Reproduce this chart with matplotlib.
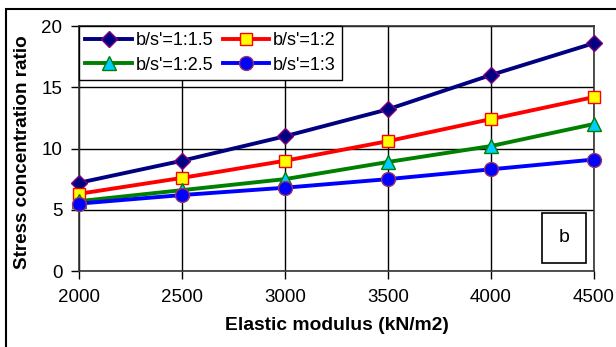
import matplotlib.pyplot as plt
from matplotlib.patches import Rectangle

plt.rcParams['font.family'] = ['Liberation Sans', 'DejaVu Sans']

modulus = [2000, 2500, 3000, 3500, 4000, 4500]
ratio_15 = [7.2, 9.0, 11.0, 13.2, 16.0, 18.6]
ratio_2 = [6.3, 7.6, 9.0, 10.6, 12.4, 14.2]
ratio_25 = [5.7, 6.6, 7.5, 8.9, 10.2, 12.0]
ratio_3 = [5.5, 6.2, 6.8, 7.5, 8.3, 9.1]
labels = ["b/s'=1:1.5", "b/s'=1:2", "b/s'=1:2.5", "b/s'=1:3"]

fig = plt.figure(figsize=(6.16, 3.47), dpi=100)
ax = fig.add_axes([79 / 616, 1 - 271 / 347, 515 / 616, 245 / 347])

# outer frame (only top/left visible)
fig.patches.append(Rectangle((6 / 616, -0.1), 1.2, 1 - 9 / 347 + 0.1,
                             transform=fig.transFigure, fill=False,
                             edgecolor='black', linewidth=1.5))

styles = [
    dict(color='#000080', marker='D', mfc='#000080', mec='#800080', ms=8.5),
    dict(color='#ff0000', marker='s', mfc='#ffff00', mec='#ff0000', ms=8.5),
    dict(color='#008000', marker='^', mfc='#00ccff', mec='#008000', ms=10),
    dict(color='#0000ff', marker='o', mfc='#0000ff', mec='#993366', ms=10),
]
handles = []
for ys, lab, st in zip([ratio_15, ratio_2, ratio_25, ratio_3], labels, styles):
    h, = ax.plot(modulus, ys, lw=2.8, mew=1.0, label=lab, clip_on=False, zorder=3, **st)
    handles.append(h)

ax.set_xlim(2000, 4500)
ax.set_ylim(0, 20)
ax.set_xticks(modulus)
ax.set_yticks([0, 5, 10, 15, 20])
ax.grid(True, color='black', linewidth=1.0)
ax.set_axisbelow(True)
for s in ax.spines.values():
    s.set_color('#333333')
    s.set_linewidth(1.2)
ax.tick_params(direction='out', length=6, width=1.0, labelsize=13.5, pad=4)
ax.tick_params(axis='y', pad=6)
ax.tick_params(axis='x', pad=7)

ax.set_xlabel('Elastic modulus (kN/m2)', fontsize=13.9, fontweight='bold', labelpad=8)
ax.set_ylabel('Stress concentration ratio', fontsize=13.6, fontweight='bold')
ax.yaxis.set_label_coords(-0.094, 0.485)

# row-wise legend order: 1.5, 2 / 2.5, 3
order = [0, 2, 1, 3]
leg = ax.legend([handles[i] for i in order], [labels[i] for i in order],
                loc='upper left', ncol=2, fontsize=13, frameon=True, fancybox=False,
                edgecolor='black', framealpha=1, borderaxespad=0, handlelength=2.6,
                handletextpad=0.2, columnspacing=0.5, borderpad=0.35, labelspacing=0.4)
leg.get_frame().set_linewidth(1.0)

ax.text(0.942, 0.135, 'b', transform=ax.transAxes, fontsize=14, ha='center', va='center',
        bbox=dict(boxstyle='square,pad=0.85', facecolor='white', edgecolor='black', lw=1.2))

fig.savefig('out.png', dpi=100)
